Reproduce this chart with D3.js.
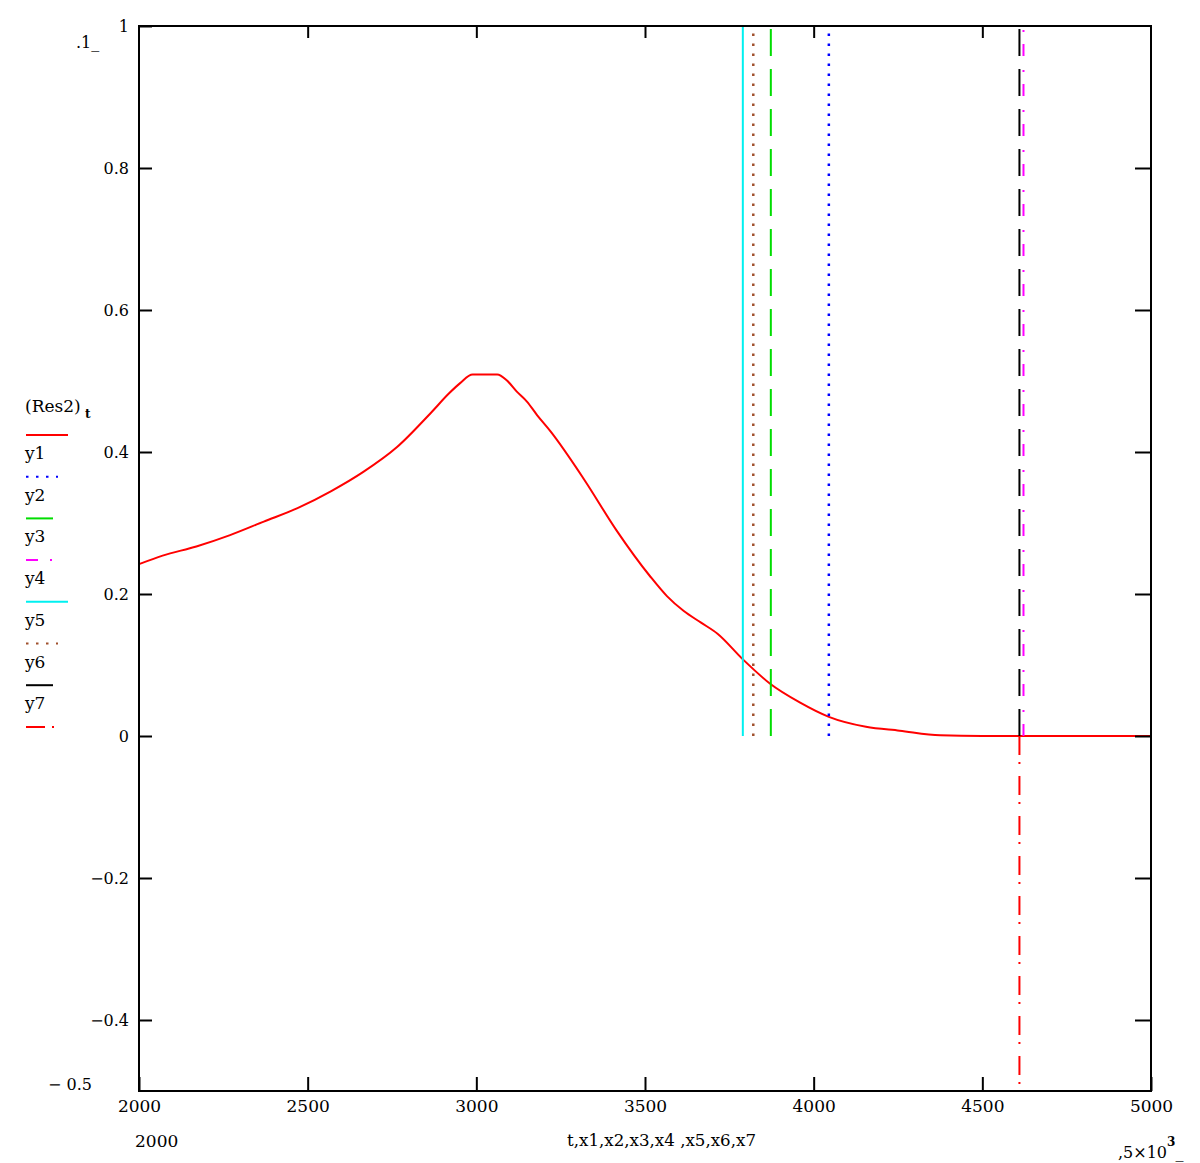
<!DOCTYPE html>
<html>
<head>
<meta charset="utf-8">
<script src="https://cdn.jsdelivr.net/npm/d3@7"></script>
<style>
  body { margin: 0; background: #fff; }
  text { font-family: "DejaVu Serif", "Liberation Serif", serif; fill: #000; }
</style>
</head>
<body>
<div id="chart"></div>
<script>
// Res2 curve
var tVals = [2000, 2070, 2170, 2270, 2370, 2470, 2570, 2665, 2765, 2865, 2920, 2952, 2989, 3062, 3090, 3120, 3150, 3180, 3220, 3320, 3415, 3515, 3565, 3615, 3665, 3715, 3790, 3870, 3960, 4045, 4155, 4255, 4375, 4500, 5000];
var res2 = [0.242, 0.254, 0.267, 0.283, 0.302, 0.321, 0.345, 0.372, 0.407, 0.455, 0.483, 0.497, 0.509, 0.509, 0.501, 0.485, 0.471, 0.452, 0.429, 0.361, 0.290, 0.225, 0.197, 0.176, 0.160, 0.144, 0.108, 0.074, 0.047, 0.027, 0.013, 0.0075, 0.001, 0, 0];

// vertical marker traces y1..y7 at x1..x7
var markerNames = ["y1", "y2", "y3", "y4", "y5", "y6", "y7"];
var markerX = [4045, 3873, 4622, 3790, 3821, 4610, 4610];
var markerFrom = [0, 0, 0, 0, 0, 0, 0];
var markerTo = [1, 1, 1, 1, 1, 1, -0.5];

var xTicks = [2000, 2500, 3000, 3500, 4000, 4500, 5000];
var yTicks = [-0.4, -0.2, 0, 0.2, 0.4, 0.6, 0.8, 1];

var colors = ["#0000ff", "#00dd00", "#ff00ff", "#00f0f0", "#a0502d", "#000000", "#ff0000"];
var dashes = ["2.5,7.5", "27,13", "12,12,2,14", null, "2.5,7.5", "27,13", "19,7,2,12"];

var svg = d3.select("#chart").append("svg")
  .attr("width", 1200)
  .attr("height", 1163)

var x = d3.scaleLinear().domain([2000, 5000]).range([139, 1151])
var y = d3.scaleLinear().domain([-0.5, 1]).range([1091, 26])

// the Res2 curve
var line = d3.line()
  .x(function(d){ return x(d[0]) })
  .y(function(d){ return y(d[1]) })
  .curve(d3.curveMonotoneX)

svg.append("path")
  .datum(d3.zip(tVals, res2))
  .attr("d", line)
  .style("fill", "none")
  .style("stroke", "#ff0000")
  .style("stroke-width", 2)

// vertical lines
svg.selectAll("vlines")
  .data(markerX)
  .enter()
  .append("line")
    .attr("x1", function(d){ return x(d) })
    .attr("x2", function(d){ return x(d) })
    .attr("y1", function(d,i){ return y(markerFrom[i]) })
    .attr("y2", function(d,i){ return y(markerTo[i]) })
    .style("stroke", function(d,i){ return colors[i] })
    .style("stroke-width", function(d,i){ return (i == 0 || i == 4) ? 2.5 : 2 })
    .style("stroke-dasharray", function(d,i){ return dashes[i] })

// axes, ticks pointing inward
var axisStyle = function(g) {
  g.select(".domain").remove()
  g.selectAll(".tick line").style("stroke", "#000").style("stroke-width", 2)
  g.selectAll("text").style("font-family", "DejaVu Serif").style("font-size", "16px")
}

svg.append("g")
  .attr("transform", "translate(139,0)")
  .call(d3.axisLeft(y).tickValues(yTicks).tickSizeInner(-13).tickSizeOuter(0).tickPadding(10)
    .tickFormat(function(d){ return d === 0 ? "0" : String(d).replace("-", "\u2212") }))
  .call(axisStyle)

svg.append("g")
  .attr("transform", "translate(1151,0)")
  .call(d3.axisRight(y).tickValues(yTicks.slice(0, 7)).tickSizeInner(-16).tickSizeOuter(0).tickFormat(""))
  .call(axisStyle)

svg.append("g")
  .attr("transform", "translate(0,1091)")
  .call(d3.axisBottom(x).tickValues(xTicks).tickSizeInner(-14).tickSizeOuter(0).tickPadding(9).tickFormat(d3.format("d")))
  .call(axisStyle)
  .selectAll("text").style("font-size", "17px")

svg.append("g")
  .attr("transform", "translate(0,26)")
  .call(d3.axisTop(x).tickValues(xTicks.slice(1, 6)).tickSizeInner(-12).tickSizeOuter(0).tickFormat(""))
  .call(axisStyle)

// frame
svg.append("rect")
  .attr("x", 139).attr("y", 26).attr("width", 1012).attr("height", 1065)
  .style("fill", "none").style("stroke", "#000").style("stroke-width", 2)

// limit labels
svg.append("text").attr("x", 76).attr("y", 48).text(".1_").style("font-size", "16px")
svg.append("text").attr("x", 92).attr("y", 1090).attr("text-anchor", "end").text("\u2212 0.5").style("font-size", "16px")
svg.append("text").attr("x", 135).attr("y", 1147).text("2000").style("font-size", "17px")

svg.append("text")
  .attr("x", 567).attr("y", 1146)
  .attr("textLength", 189).attr("lengthAdjust", "spacingAndGlyphs")
  .text("t,x1,x2,x3,x4 ,x5,x6,x7")
  .style("font-size", "16px")

var ex = svg.append("text").attr("x", 1118).attr("y", 1158).style("font-size", "16px")
ex.append("tspan").text(",5\u00d710")
ex.append("tspan").attr("dy", -12).style("font-size", "12px").style("font-weight", "bold").text("3")
ex.append("tspan").attr("dy", 12).text("_")

// legend: label, then line sample under it
var legendLabels = ["(Res2)"].concat(markerNames)
var legendColors = ["#ff0000"].concat(colors)
var legendDashes = [null].concat(dashes)
var legendLen = [42, 32, 28, 28, 42, 32, 28, 28]

svg.selectAll("mylabels")
  .data(legendLabels)
  .enter()
  .append("text")
    .attr("x", 25)
    .attr("y", function(d,i){ return i == 0 ? 412 : 459 + (i-1)*41.7 })
    .text(function(d){ return d })
    .style("font-size", "17px")

svg.append("text").attr("x", 85).attr("y", 418).text("t").style("font-size", "12px").style("font-weight", "bold")

svg.selectAll("mylines")
  .data(legendColors)
  .enter()
  .append("line")
    .attr("x1", 26)
    .attr("x2", function(d,i){ return 26 + legendLen[i] })
    .attr("y1", function(d,i){ return 435 + i*41.7 })
    .attr("y2", function(d,i){ return 435 + i*41.7 })
    .style("stroke", function(d){ return d })
    .style("stroke-width", 2)
    .style("stroke-dasharray", function(d,i){ return legendDashes[i] })
</script>
</body>
</html>
